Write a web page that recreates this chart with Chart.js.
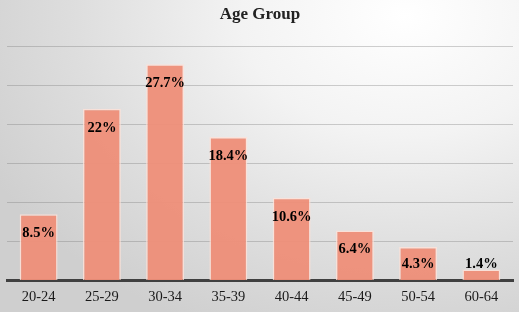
<!DOCTYPE html>
<html>
<head>
<meta charset="utf-8">
<script src="https://cdn.jsdelivr.net/npm/chart.js@4"></script>
<style>
  html, body { margin: 0; padding: 0; }
  #wrap {
    width: 519px; height: 312px;
    background: radial-gradient(ellipse 90% 110% at 78% 5%, #ffffff 0%, #f3f3f3 35%, #dedede 70%, #cfcfcf 100%);
  }
</style>
</head>
<body>
<div id="wrap"><canvas id="ageChart" width="519" height="312"></canvas></div>
<script>
const categories = ['20-24', '25-29', '30-34', '35-39', '40-44', '45-49', '50-54', '60-64'];
const shares = [8.5, 22, 27.7, 18.4, 10.6, 6.4, 4.3, 1.4];
const yMax = 30;
const yStep = 5;

// percent labels just inside the top of each bar (above it when the bar is too short)
const barLabels = {
    id: 'barLabels',
    afterDatasetsDraw(chart) {
        const ctx = chart.ctx;
        const meta = chart.getDatasetMeta(0);
        const base = chart.scales.y.getPixelForValue(0);
        ctx.save();
        ctx.font = 'bold 14.5px "Liberation Serif"';
        ctx.fillStyle = '#000';
        ctx.textAlign = 'center';
        ctx.textBaseline = 'middle';
        meta.data.forEach((bar, i) => {
            const y = Math.min(bar.y + 19, base - 16);
            ctx.fillText(shares[i] + '%', bar.x, y);
        });
        ctx.restore();
    }
};

const ctx = document.getElementById('ageChart').getContext('2d');
const ageChart = new Chart(ctx, {
    type: 'bar',
    data: {
        labels: categories,
        datasets: [{
            label: 'Age Group',
            data: shares,
            backgroundColor: 'rgba(238, 142, 120, 0.95)',
            borderColor: 'rgba(255, 225, 215, 0.8)',
            borderWidth: 1.5,
            categoryPercentage: 0.6,
            barPercentage: 1
        }]
    },
    options: {
        responsive: false,
        animation: false,
        layout: { padding: { left: 7, right: 6, top: 0, bottom: -1 } },
        scales: {
            x: {
                grid: { display: false, drawTicks: false },
                border: { display: true, color: '#404040', width: 3 },
                ticks: {
                    color: '#1a1a1a',
                    font: { family: 'Liberation Serif', size: 14.5, lineHeight: 1 },
                    padding: 9
                }
            },
            y: {
                min: 0,
                max: yMax,
                ticks: { display: false, stepSize: yStep },
                grid: { color: 'rgba(120, 120, 120, 0.35)', lineWidth: 1, drawTicks: false },
                border: { display: false }
            }
        },
        plugins: {
            legend: { display: false },
            tooltip: { enabled: false },
            title: {
                display: true,
                text: 'Age Group',
                color: '#222',
                font: { family: 'Liberation Serif', size: 17, weight: 'bold' },
                padding: { top: 4, bottom: 22 }
            }
        }
    },
    plugins: [barLabels]
});
</script>
</body>
</html>
